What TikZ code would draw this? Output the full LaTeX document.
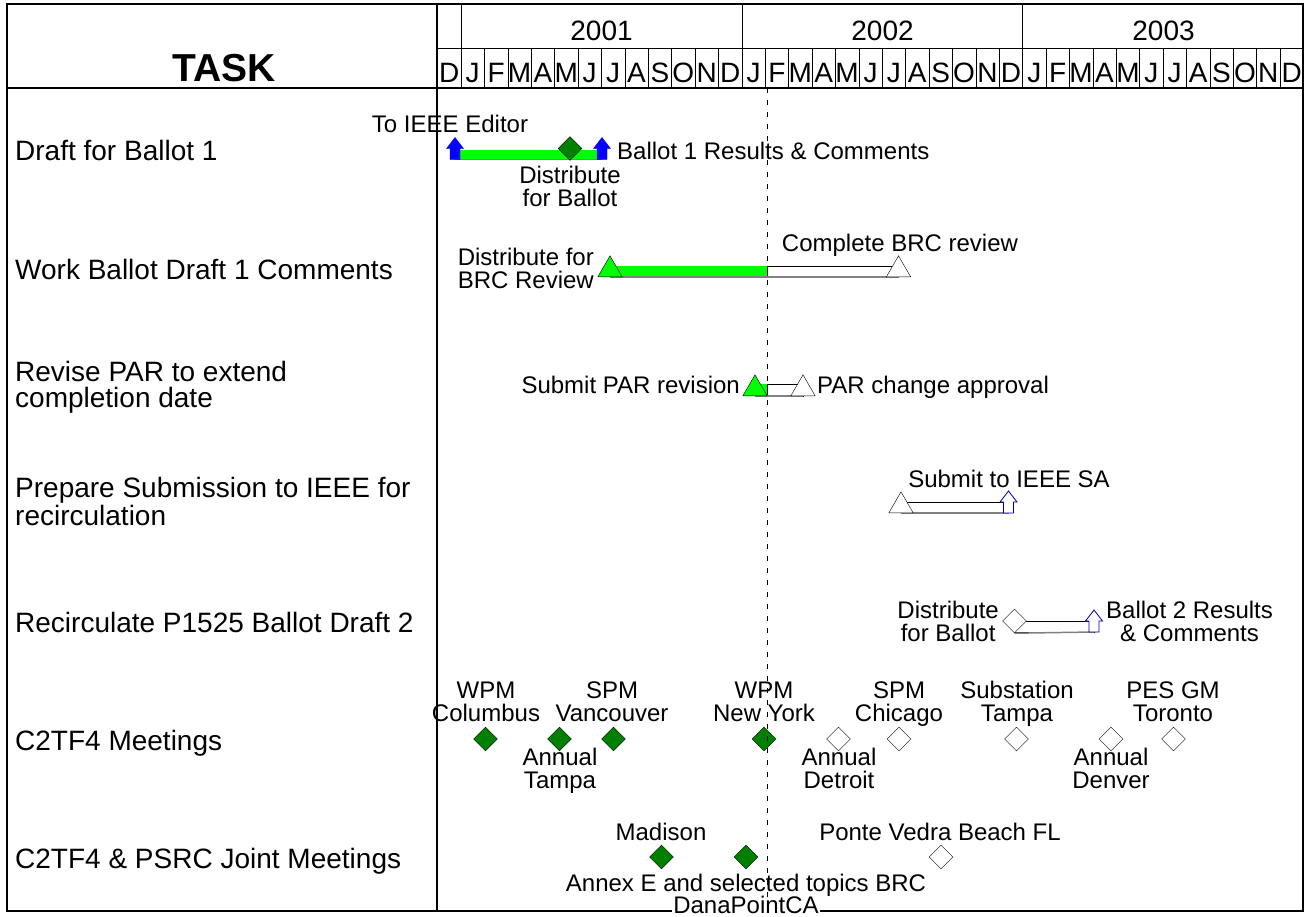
\documentclass[tikz,border=0pt]{standalone}
\usepackage{fontspec}
\setmainfont{Liberation Sans}
\usetikzlibrary{shapes.geometric,backgrounds,calc}
\definecolor{barlime}{RGB}{0,255,0}
\definecolor{dkgreen}{RGB}{0,128,0}
\definecolor{upblue}{RGB}{0,0,255}
\definecolor{edgeblue}{RGB}{0,0,160}
\tikzset{
  rowname/.style={anchor=base west, inner sep=0pt, align=left, font=\fontsize{28}{26}\selectfont},
  note/.style={anchor=base, inner sep=0pt, align=center, font=\fontsize{24}{23}\selectfont},
  hdr/.style={inner sep=0pt, text height=20pt, text depth=0pt, font=\fontsize{28}{28}\selectfont},
  donemtg/.style={diamond, draw=black, fill=dkgreen, minimum width=24pt, minimum height=24pt, inner sep=0pt},
  todomtg/.style={donemtg, fill=white},
  donetri/.style={regular polygon, regular polygon sides=3, draw=black, fill=barlime, minimum size=28pt, inner sep=0pt, anchor=south},
  todotri/.style={donetri, fill=white},
  upflag/.style={draw=upblue, fill=upblue},
  todoflag/.style={draw=edgeblue, fill=white, line width=0.8pt},
  donebar/.style={fill=barlime},
  todobar/.style={draw=black, fill=white},
  barfoot/.style={draw=gray, line width=1.5pt}
}
% up arrow standing on its tail point
\newcommand{\flagat}[3]{\coordinate (#2) at #3;
  \filldraw[#1] (#2) ++(-5,0) -- ++(0,-11) -- ++(-3.5,0) -- ++(8.5,-11) -- ++(8.5,11) -- ++(-3.5,0) -- ++(0,11) -- cycle;}
\begin{document}
\begin{tikzpicture}[x=1pt, y=-1pt]
\useasboundingbox (0,0) rectangle (1308,916);
\draw[line width=2pt] (7,4) rectangle (1303,911);
\draw[line width=2pt] (7,88) -- (1303,88);
\draw[line width=2pt] (437,4) -- (437,911);
\draw (437,48) -- (1303,48);
\foreach \i in {0,...,35} \draw ({461+23.4*\i},48) -- ({461+23.4*\i},88);
\foreach \i in {0,12,24} \draw ({461+23.4*\i},4) -- ({461+23.4*\i},48);
\node[inner sep=0pt, text height=28pt, text depth=0pt, font=\fontsize{39}{39}\selectfont\bfseries] (task) at (224,67.5) {TASK};
\node[hdr] (y2001) at (601.5,30.7) {2001};
\node[hdr] (y2002) at (882.5,30.7) {2002};
\node[hdr] (y2003) at (1163.5,30.7) {2003};
\foreach \m [count=\i from 0] in {D,J,F,M,A,M,J,J,A,S,O,N,D,J,F,M,A,M,J,J,A,S,O,N,D,J,F,M,A,M,J,J,A,S,O,N,D}
  \node[hdr] (mon\i) at ({449.3+23.4*\i},72.5) {\m};

\node[rowname] (r1) at (15,160) {Draft for Ballot 1};
\node[rowname] (r2) at (15,279) {Work Ballot Draft 1 Comments};
\node[rowname] (r3) at (15,407) {Revise PAR to extend\\completion date};
\node[rowname] (r4) at (15,525) {Prepare Submission to IEEE for\\recirculation};
\node[rowname] (r5) at (15,632) {Recirculate P1525 Ballot Draft 2};
\node[rowname] (r6) at (15,750) {C2TF4 Meetings};
\node[rowname] (r7) at (15,868) {C2TF4 \& PSRC Joint Meetings};

\coordinate (now) at (767,88);
\coordinate (nowend) at (767,911);

\flagat{upflag}{toed}{(455,159.5)}
\flagat{upflag}{res1}{(602,159.5)}
\node[donemtg] (dist1) at (570,148.5) {};
\node[note] (toedl) at (450,132) {To IEEE Editor};
\node[note, anchor=base west] (res1l) at (617,159) {Ballot 1 Results \& Comments};
\node[note] (dist1l) at (570,206.5) {Distribute\\for Ballot};

\node[donetri] (brc) at (610,277) {};
\node[todotri] (brcend) at (898.5,277) {};
\node[note, anchor=base east] (brcl) at (594,288.5) {Distribute for\\BRC Review};
\node[note] (brcendl) at (900,251.5) {Complete BRC review};

\node[donetri] (parsub) at (755,396) {};
\node[todotri] (parok) at (803,396) {};
\node[note, anchor=base east] (parsubl) at (740,393.5) {Submit PAR revision};
\node[note, anchor=base west] (parokl) at (817,393.5) {PAR change approval};

\node[todotri] (prep) at (901,513) {};
\flagat{todoflag}{subsa}{(1008.5,513)}
\node[note] (subsal) at (1009,487.5) {Submit to IEEE SA};

\node[todomtg] (dist2) at (1014.5,621) {};
\flagat{todoflag}{res2}{(1094,632)}
\node[note, anchor=base east] (dist2l) at (999,641.5) {Distribute\\for Ballot};
\node[note, anchor=base west] (res2l) at (1106,641.5) {Ballot 2 Results\\\& Comments};

\begin{scope}[on background layer]
\fill[donebar] (toed) rectangle ($(res1)+(0,-10)$);
\draw[barfoot] (toed) -- (res1);
\fill[donebar] (brc.south) rectangle ($(now |- brc.south)+(0,-11)$);
\draw[todobar] (now |- brc.south) rectangle ($(brcend.south)+(0,-11)$);
\draw[barfoot] (brc.south) -- (brcend.south);
\fill[donebar] (parsub.south) rectangle ($(now |- parsub.south)+(0,-12)$);
\draw[todobar] (now |- parsub.south) rectangle ($(parok.south)+(0,-12)$);
\draw[barfoot] (parsub.south) -- (parok.south);
\draw[todobar] (prep.south) rectangle ($(subsa)+(0,-11)$);
\draw[barfoot] (prep.south) -- (subsa);
\draw[todobar] (dist2.center) rectangle (res2);
\draw[barfoot] (dist2.south) -- (res2);
\end{scope}

\node[donemtg] (wpm1) at (485.5,739) {};
\node[donemtg] (ann1) at (559.5,739) {};
\node[donemtg] (spm1) at (613.5,739) {};
\node[donemtg] (wpm2) at (764,739) {};
\node[todomtg] (ann2) at (838.5,739) {};
\node[todomtg] (spm2) at (899,739) {};
\node[todomtg] (sub2) at (1016.5,739) {};
\node[todomtg] (ann3) at (1111,739) {};
\node[todomtg] (pes3) at (1173.5,739) {};
\node[note] (wpm1l) at (486,721) {WPM\\Columbus};
\node[note] (spm1l) at (612,721) {SPM\\Vancouver};
\node[note] (wpm2l) at (764,721) {WPM\\New York};
\node[note] (spm2l) at (899,721) {SPM\\Chicago};
\node[note] (sub2l) at (1017,721) {Substation\\Tampa};
\node[note] (pes3l) at (1173,721) {PES GM\\Toronto};
\node[note] (ann1l) at (560,788) {Annual\\Tampa};
\node[note] (ann2l) at (839,788) {Annual\\Detroit};
\node[note] (ann3l) at (1111,788) {Annual\\Denver};

\node[donemtg] (mad) at (661.5,857) {};
\node[donemtg] (dana) at (746,857) {};
\node[todomtg] (ponte) at (941,857) {};
\node[note] (madl) at (661,840) {Madison};
\node[note] (pontel) at (940,840) {Ponte Vedra Beach FL};
\node[note] (danal) at (746,891) {Annex E and selected topics BRC};
\node[note, fill=white, inner xsep=1pt] (danal2) at (746,913) {DanaPointCA};

\draw[dash pattern=on 5pt off 7pt] (now) -- (nowend);
\end{tikzpicture}
\end{document}
